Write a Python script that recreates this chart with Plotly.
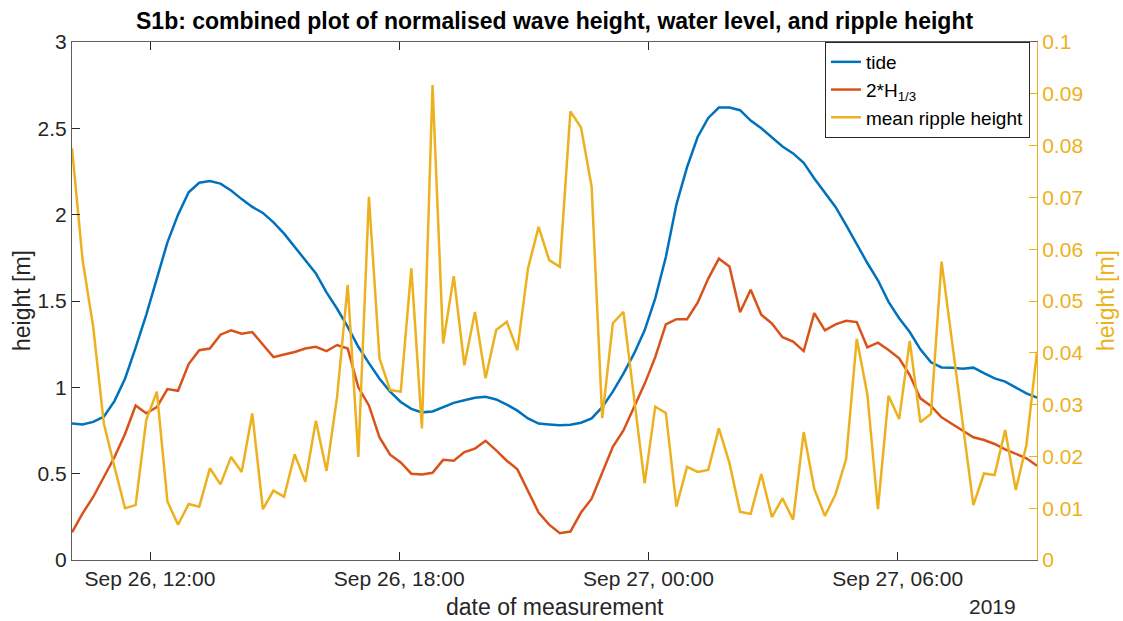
import pandas as pd
import plotly.graph_objects as go

# Sampling: 92 samples, first at 2019-09-26 10:07, spacing ~15.3 min
t_start = "2019-09-26 10:07:20"
t_end = "2019-09-27 09:21:15"
n_samples = 92

tide = [0.79, 0.785, 0.80, 0.83, 0.92, 1.05, 1.23, 1.42, 1.63, 1.84,
        2.00, 2.13, 2.185, 2.195, 2.18, 2.14, 2.09, 2.045, 2.01, 1.955,
        1.89, 1.815, 1.74, 1.66, 1.55, 1.455, 1.35, 1.235, 1.14, 1.05,
        0.975, 0.915, 0.875, 0.855, 0.86, 0.885, 0.91, 0.925, 0.94, 0.945,
        0.93, 0.90, 0.865, 0.82, 0.79, 0.785, 0.78, 0.783, 0.795, 0.82,
        0.885, 0.975, 1.08, 1.195, 1.33, 1.515, 1.755, 2.06, 2.275, 2.45,
        2.56, 2.62, 2.62, 2.605, 2.545, 2.50, 2.45, 2.395, 2.355, 2.30,
        2.21, 2.13, 2.045, 1.94, 1.83, 1.72, 1.62, 1.495, 1.40, 1.32,
        1.22, 1.145, 1.115, 1.114, 1.108, 1.114, 1.082, 1.052, 1.033, 1.00,
        0.965, 0.94]

wave_2h13 = [0.16, 0.27, 0.365, 0.48, 0.595, 0.73, 0.895, 0.85, 0.885, 0.99,
             0.98, 1.135, 1.215, 1.225, 1.305, 1.33, 1.31, 1.32, 1.245, 1.175,
             1.19, 1.205, 1.225, 1.235, 1.21, 1.245, 1.225, 1.00, 0.895, 0.71,
             0.61, 0.565, 0.50, 0.495, 0.505, 0.58, 0.575, 0.625, 0.645, 0.69,
             0.635, 0.575, 0.525, 0.40, 0.275, 0.205, 0.155, 0.165, 0.275, 0.355,
             0.51, 0.655, 0.75, 0.885, 1.02, 1.175, 1.365, 1.395, 1.395, 1.49,
             1.63, 1.745, 1.70, 1.435, 1.565, 1.42, 1.37, 1.29, 1.265, 1.21,
             1.43, 1.33, 1.365, 1.385, 1.378, 1.232, 1.259, 1.216, 1.168, 1.071,
             0.936, 0.892, 0.826, 0.788, 0.749, 0.711, 0.695, 0.672, 0.641, 0.614,
             0.589, 0.546]

ripple = [0.0795, 0.0579, 0.0450, 0.0264, 0.0180, 0.0100, 0.0106, 0.0270, 0.0325, 0.0113,
          0.0068, 0.0108, 0.0103, 0.0177, 0.0146, 0.0199, 0.0170, 0.0283, 0.0098, 0.0134,
          0.0122, 0.0204, 0.0151, 0.0269, 0.0172, 0.0315, 0.0531, 0.0199, 0.0701, 0.0389,
          0.0328, 0.0325, 0.0563, 0.0254, 0.0917, 0.0418, 0.0548, 0.0376, 0.0479, 0.0351,
          0.0444, 0.0460, 0.0405, 0.0563, 0.0643, 0.0579, 0.0566, 0.0866, 0.0835, 0.0721,
          0.0274, 0.0457, 0.0479, 0.0314, 0.0148, 0.0296, 0.0284, 0.0103, 0.0180, 0.0170,
          0.0174, 0.0254, 0.0187, 0.0093, 0.0089, 0.0166, 0.0083, 0.0119, 0.0078, 0.0247,
          0.0137, 0.0085, 0.0127, 0.0195, 0.0427, 0.0320, 0.0098, 0.0317, 0.0272, 0.0423,
          0.0266, 0.0282, 0.0576, 0.0420, 0.0263, 0.0106, 0.0167, 0.0164, 0.0251, 0.0135,
          0.0222, 0.0402]

x_tick_vals = ["2019-09-26 12:00", "2019-09-26 18:00", "2019-09-27 00:00", "2019-09-27 06:00"]
x_tick_text = ["Sep 26, 12:00", "Sep 26, 18:00", "Sep 27, 00:00", "Sep 27, 06:00"]
left_ticks = [0, 0.5, 1, 1.5, 2, 2.5, 3]
left_tick_text = ["0", "0.5", "1", "1.5", "2", "2.5", "3"]
right_ticks = [0, 0.01, 0.02, 0.03, 0.04, 0.05, 0.06, 0.07, 0.08, 0.09, 0.1]
right_tick_text = ["0", "0.01", "0.02", "0.03", "0.04", "0.05", "0.06", "0.07", "0.08", "0.09", "0.1"]

times = pd.date_range(t_start, t_end, periods=n_samples)

BLUE = "#0072BD"
ORANGE = "#D95319"
YELLOW = "#EDB120"
INK = "#262626"
FONT = "Liberation Sans, Arial, Helvetica, sans-serif"

fig = go.Figure()
fig.add_trace(go.Scatter(x=times, y=tide, mode="lines", name="tide",
                         line=dict(color=BLUE, width=2.5)))
fig.add_trace(go.Scatter(x=times, y=wave_2h13, mode="lines", name="2*H<sub>1/3</sub>",
                         line=dict(color=ORANGE, width=2.5)))
fig.add_trace(go.Scatter(x=times, y=ripple, mode="lines", name="mean ripple height",
                         line=dict(color=YELLOW, width=2.5), yaxis="y2"))

fig.update_layout(
    width=1123, height=621,
    margin=dict(l=72, r=86, t=42, b=61),
    paper_bgcolor="white", plot_bgcolor="white",
    font=dict(family=FONT, size=21, color=INK),
    showlegend=True,
    legend=dict(
        x=0.9927, y=1.0, xanchor="right", yanchor="top",
        bgcolor="white", bordercolor=INK, borderwidth=1,
        font=dict(size=19, color="black"),
        itemwidth=30, tracegroupgap=0,
    ),
    xaxis=dict(
        type="date",
        range=[times[0], times[-1]],
        tickvals=x_tick_vals, ticktext=x_tick_text,
        ticks="inside", ticklen=8, tickcolor=INK,
        showline=True, linecolor="#5f5f5f", linewidth=1, mirror="ticks",
        showgrid=False, zeroline=False,
        tickfont=dict(size=21, color=INK),
    ),
    yaxis=dict(
        range=[0, 3],
        tickvals=left_ticks, ticktext=left_tick_text,
        ticks="inside", ticklen=8, tickcolor=INK,
        showline=True, linecolor="#5f5f5f", linewidth=1,
        showgrid=False, zeroline=False,
        tickfont=dict(size=21, color=INK),
    ),
    yaxis2=dict(
        range=[0, 0.1], overlaying="y", side="right",
        tickvals=right_ticks, ticktext=right_tick_text,
        ticks="inside", ticklen=8, tickcolor=YELLOW,
        showline=True, linecolor=YELLOW, linewidth=1,
        showgrid=False, zeroline=False,
        tickfont=dict(size=21, color=YELLOW),
    ),
    annotations=[
        dict(text="<b>S1b: combined plot of normalised wave height, water level, and ripple height</b>",
             xref="paper", yref="paper", x=0.5, y=1, yshift=21,
             xanchor="center", yanchor="middle", showarrow=False,
             font=dict(size=23, color="black")),
        dict(text="date of measurement", xref="paper", yref="paper",
             x=0.5, y=0, yshift=-47, xanchor="center", yanchor="middle",
             showarrow=False, font=dict(size=23, color=INK)),
        dict(text="2019", xref="paper", yref="paper",
             x=(1018 - 72) / 965, y=0, yshift=-46, xanchor="right", yanchor="middle",
             showarrow=False, font=dict(size=21, color=INK)),
        dict(text="height [m]", xref="paper", yref="paper",
             x=(22 - 72) / 965, y=0.5, textangle=-90,
             xanchor="center", yanchor="middle", showarrow=False,
             font=dict(size=23, color=INK)),
        dict(text="height [m]", xref="paper", yref="paper",
             x=(1106 - 72) / 965, y=0.5, textangle=-90,
             xanchor="center", yanchor="middle", showarrow=False,
             font=dict(size=23, color=YELLOW)),
    ],
)

fig.write_html("out.html")
